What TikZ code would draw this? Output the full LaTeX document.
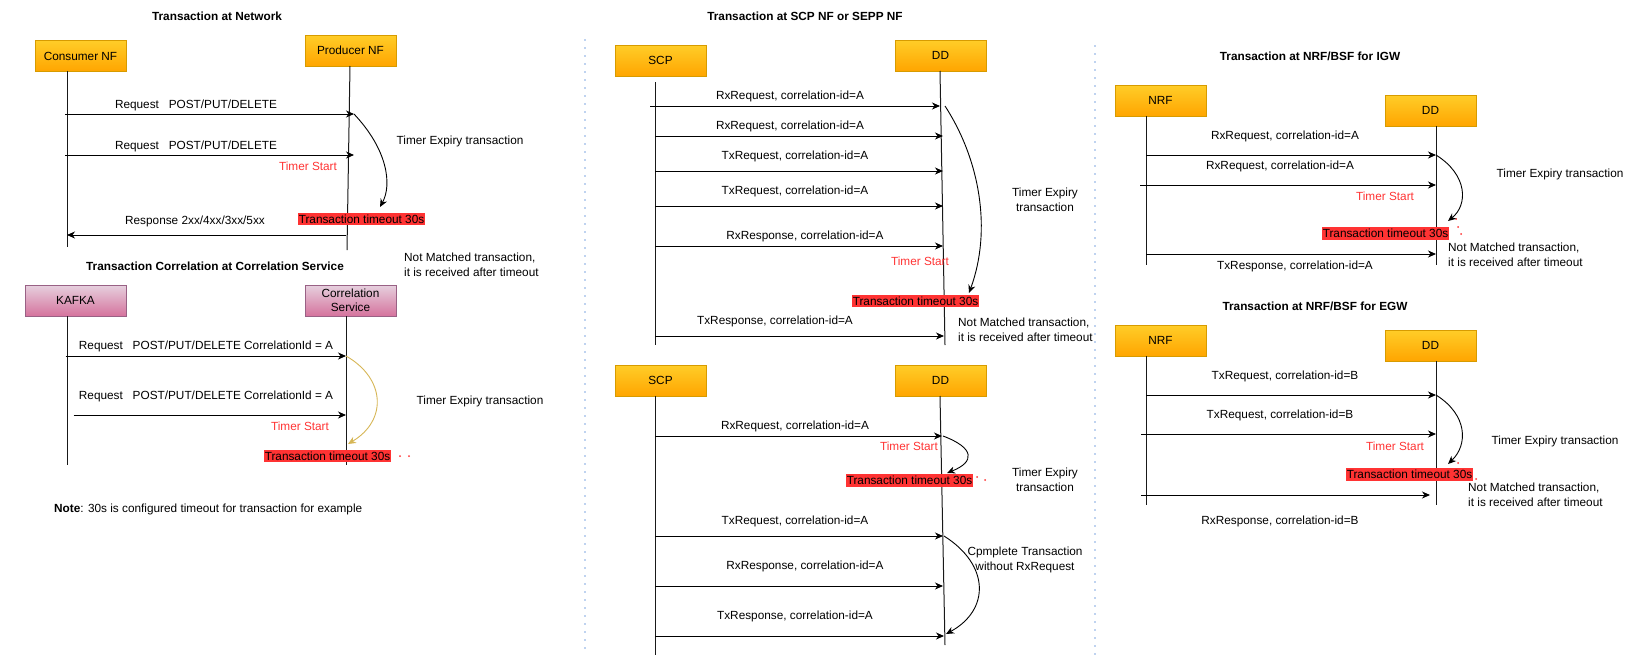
\documentclass[tikz,border=0pt]{standalone}
\usepackage{fontspec}
\setmainfont{Liberation Sans}
\usetikzlibrary{arrows.meta}
\usetikzlibrary{calc}
\usetikzlibrary{positioning}

\definecolor{boxtop}{HTML}{FFCD28}
\definecolor{boxbot}{HTML}{FFA500}
\definecolor{boxline}{HTML}{D79B00}
\definecolor{ktop}{HTML}{E6D0DE}
\definecolor{kbot}{HTML}{D5739D}
\definecolor{kline}{HTML}{996185}
\definecolor{tred}{HTML}{FF3333}
\definecolor{gold}{HTML}{D6B656}
\definecolor{sepblue}{HTML}{7EA6E0}

\tikzset{
  nfbox/.style={draw=boxline, top color=boxtop, bottom color=boxbot, minimum width=91pt, minimum height=31pt, inner sep=1pt, align=center},
  kbox/.style={nfbox, draw=kline, top color=ktop, bottom color=kbot},
  life/.style={draw=black!90, line width=1pt},
  msg/.style={line width=0.9pt, -{Stealth[length=8pt,width=7pt,inset=2.5pt]}},
  timer/.style={line width=0.9pt, -{Stealth[length=8pt,width=7pt,inset=2.5pt]}},
  ttl/.style={font=\fontsize{11.8}{14}\selectfont\bfseries},
  tstart/.style={text=tred},
  tout/.style={fill=tred, inner xsep=0.5pt, inner ysep=1.8pt},
  twoline/.style={align=center, font=\fontsize{11.8}{14.5}\selectfont},
  leftnote/.style={align=left, anchor=west, inner sep=0pt, font=\fontsize{11.8}{14.5}\selectfont},
  reddot/.style={fill=tred, circle, inner sep=0pt, minimum size=2pt},
  divider/.style={draw=sepblue, line width=1.8pt, line cap=round, dash pattern=on 0pt off 8pt},
}

\begin{document}
\begin{tikzpicture}[x=1pt, y=-1pt, every node/.style={font=\fontsize{11.8}{14}\selectfont}]
\useasboundingbox (0,0) rectangle (1650,662);

% dividers
\coordinate (d1t) at (585,40); \coordinate (d1b) at (585,655);
\coordinate (d2t) at (1095,46); \coordinate (d2b) at (1095,655);
\draw[divider] (d1t) -- (d1b);
\draw[divider] (d2t) -- (d2b);

% Transaction at Network
\node[ttl] (t1) at (217,16) {Transaction at Network};
\node[nfbox] (cnf) at (80.5,56) {Consumer NF};
\node[nfbox] (pnf) at (350.5,50.5) {Producer NF};
\coordinate (cnfL) at (67,71); \coordinate (cnfE) at (67,247);
\coordinate (pnfL) at (350,66); \coordinate (pnfE) at (347,250);
\draw[life] (cnfL) -- (cnfE);
\draw[life] (pnfL) -- (pnfE);
\draw[msg] ($(cnfL |- 0,114)+(-2,0)$) -- ($(pnfL |- 0,114)+(4,0)$);
\draw[msg] ($(cnfL |- 0,155)+(-2,0)$) -- ($(pnfL |- 0,155)+(4,0)$);
\draw[msg] ($(pnfE |- 0,235)+(-1,0)$) -- (cnfL |- 0,235);
\node (rq1) at (196,105) {Request\ \ \ POST/PUT/DELETE};
\node (rq2) at (196,146) {Request\ \ \ POST/PUT/DELETE};
\node (rs1) at (195,221) {Response 2xx/4xx/3xx/5xx};
\node[tstart] (ts1) at (308,166) {Timer Start};
\node (te1) at (460,141) {Timer Expiry transaction};
\node[tout] (to1) at (361.5,219) {Transaction timeout 30s};
\coordinate (ex1) at (380,207);
\draw[timer] ($(pnfL |- 0,114)+(4,0)$) .. controls (388,150) and (392,185) .. (ex1);
\node[leftnote] (nm1) at (404,265) {Not Matched transaction,\\it is received after timeout};

% Transaction Correlation at Correlation Service
\node[ttl] (t2) at (215,266) {Transaction Correlation at Correlation Service};
\node[kbox, minimum width=101pt] (kfk) at (75.5,300.5) {KAFKA};
\node[kbox, font=\fontsize{11.8}{14.5}\selectfont] (crs) at (350.5,300.5) {Correlation\\Service};
\coordinate (kfkL) at (67.5,316); \coordinate (kfkE) at (67.5,465);
\coordinate (crsL) at (346,316); \coordinate (crsE) at (346,465);
\draw[life] (kfkL) -- (kfkE);
\draw[life] (crsL) -- (crsE);
\draw[msg] ($(kfkL |- 0,356)+(-2,0)$) -- (crsL |- 0,356);
\draw[msg] ($(kfkL |- 0,415)+(6,0)$) -- (crsL |- 0,415);
\node (rq3) at (206,346) {Request\ \ \ POST/PUT/DELETE CorrelationId = A};
\node (rq4) at (206,396) {Request\ \ \ POST/PUT/DELETE CorrelationId = A};
\node[tstart] (ts2) at (300,426) {Timer Start};
\node (te2) at (480,401) {Timer Expiry transaction};
\node[tout] (to2) at (327.5,456) {Transaction timeout 30s};
\node[reddot] (rd1) at (400,456) {};
\node[reddot] (rd2) at (409,456) {};
\coordinate (ex2) at (348,444);
\draw[timer, draw=gold, -{Stealth[length=8pt,width=7pt,inset=2.5pt,fill=gold]}] (crsL |- 0,356) .. controls (385,378) and (388,420) .. (ex2);
\node[leftnote] (nt) at (54,509) {\textbf{Note}: 30s is configured timeout for transaction for example};

% Transaction at SCP NF or SEPP NF (upper)
\node[ttl] (t3) at (805,16) {Transaction at SCP NF or SEPP NF};
\node[nfbox] (scp1) at (660.5,60.5) {SCP};
\node[nfbox] (dd1) at (940.5,55.5) {DD};
\coordinate (scp1L) at (655,82); \coordinate (scp1E) at (655,345);
\coordinate (dd1L) at (940,71); \coordinate (dd1E) at (945,345);
\draw[life] (scp1L) -- (scp1E);
\draw[life] (dd1L) -- (dd1E);
\draw[msg] ($(scp1L |- 0,106)+(-5,0)$) -- (dd1L |- 0,106);
\draw[msg] (scp1L |- 0,136) -- ($(dd1L |- 0,136)+(3,0)$);
\draw[msg] (scp1L |- 0,171) -- ($(dd1L |- 0,171)+(3,0)$);
\draw[msg] (scp1L |- 0,206) -- ($(dd1L |- 0,206)+(3,0)$);
\draw[msg] (scp1L |- 0,246) -- ($(dd1L |- 0,246)+(3,0)$);
\draw[msg] (scp1L |- 0,336) -- ($(dd1L |- 0,336)+(4,0)$);
\node (m1) at (790,96) {RxRequest, correlation-id=A};
\node (m2) at (790,126) {RxRequest, correlation-id=A};
\node (m3) at (795,156) {TxRequest, correlation-id=A};
\node (m4) at (795,191) {TxRequest, correlation-id=A};
\node (m5) at (805,236) {RxResponse, correlation-id=A};
\node (m6) at (775,321) {TxResponse, correlation-id=A};
\node[tstart] (ts3) at (920,261) {Timer Start};
\node[tout] (to3) at (915.5,301) {Transaction timeout 30s};
\coordinate (ex3s) at (945,106); \coordinate (ex3) at (969,293);
\draw[timer] (ex3s) .. controls (980,160) and (992,230) .. (ex3);
\node[twoline] (te3) at (1045,200) {Timer Expiry\\transaction};
\node[leftnote] (nm3) at (958,330) {Not Matched transaction,\\it is received after timeout};

% Transaction at SCP NF or SEPP NF (lower)
\node[nfbox] (scp2) at (660.5,380.5) {SCP};
\node[nfbox] (dd2) at (940.5,380.5) {DD};
\coordinate (scp2L) at (655,396); \coordinate (scp2E) at (655,655);
\coordinate (dd2L) at (940,396); \coordinate (dd2E) at (945,645);
\draw[life] (scp2L) -- (scp2E);
\draw[life] (dd2L) -- (dd2E);
\draw[msg] (scp2L |- 0,436) -- ($(dd2L |- 0,436)+(2,0)$);
\draw[msg] (scp2L |- 0,536) -- ($(dd2L |- 0,536)+(3,0)$);
\draw[msg] (scp2L |- 0,586) -- ($(dd2L |- 0,586)+(3,0)$);
\draw[msg] (scp2L |- 0,636) -- ($(dd2L |- 0,636)+(4,0)$);
\node (m7) at (795,426) {RxRequest, correlation-id=A};
\node (m8) at (795,521) {TxRequest, correlation-id=A};
\node (m9) at (805,566) {RxResponse, correlation-id=A};
\node (m10) at (795,616) {TxResponse, correlation-id=A};
\node[tstart] (ts4) at (909,446) {Timer Start};
\node[tout] (to4) at (909.5,480.5) {Transaction timeout 30s};
\node[reddot] (rd3) at (977,477) {};
\node[reddot] (rd4) at (985,480) {};
\coordinate (ex4s) at (943,436); \coordinate (ex4) at (947,473);
\draw[timer] (ex4s) .. controls (975,448) and (975,462) .. (ex4);
\node[twoline] (te4) at (1045,480) {Timer Expiry\\transaction};
\coordinate (cp4s) at (944,536); \coordinate (cp4) at (946,634);
\draw[timer] (cp4s) .. controls (990,565) and (990,610) .. (cp4);
\node[twoline] (cp4t) at (1025,560) {Cpmplete Transaction\\without RxRequest};

% Transaction at NRF/BSF for IGW
\node[ttl] (t5) at (1310,56) {Transaction at NRF/BSF for IGW};
\node[nfbox] (nrf1) at (1160.5,100.5) {NRF};
\node[nfbox] (dd3) at (1430.5,110.5) {DD};
\coordinate (nrf1L) at (1146,116); \coordinate (nrf1E) at (1146,265);
\coordinate (dd3L) at (1436,126); \coordinate (dd3E) at (1436,265);
\draw[life] (nrf1L) -- (nrf1E);
\draw[life] (dd3L) -- (dd3E);
\draw[msg] (nrf1L |- 0,155) -- (dd3L |- 0,155);
\draw[msg] ($(nrf1L |- 0,185)+(-6,0)$) -- (dd3L |- 0,185);
\draw[msg] (nrf1L |- 0,254) -- (dd3L |- 0,254);
\node (m11) at (1285,136) {RxRequest, correlation-id=A};
\node (m12) at (1280,166) {RxRequest, correlation-id=A};
\node (m13) at (1295,266) {TxResponse, correlation-id=A};
\node[tstart] (ts5) at (1385,196) {Timer Start};
\node[tout] (to5) at (1385.5,233.5) {Transaction timeout 30s};
\node[reddot] (rd5) at (1456,219) {};
\node[reddot] (rd6) at (1458,227) {};
\node[reddot] (rd7) at (1461,234) {};
\coordinate (ex5) at (1448,221);
\draw[timer] (dd3L |- 0,155) .. controls (1468,175) and (1468,205) .. (ex5);
\node (te5) at (1560,174) {Timer Expiry transaction};
\node[leftnote] (nm5) at (1448,255) {Not Matched transaction,\\it is received after timeout};

% Transaction at NRF/BSF for EGW
\node[ttl] (t6) at (1315,306) {Transaction at NRF/BSF for EGW};
\node[nfbox] (nrf2) at (1160.5,340.5) {NRF};
\node[nfbox] (dd4) at (1430.5,345.5) {DD};
\coordinate (nrf2L) at (1146,356); \coordinate (nrf2E) at (1146,505);
\coordinate (dd4L) at (1436,361); \coordinate (dd4E) at (1436,505);
\draw[life] (nrf2L) -- (nrf2E);
\draw[life] (dd4L) -- (dd4E);
\draw[msg] (nrf2L |- 0,395) -- (dd4L |- 0,395);
\draw[msg] ($(nrf2L |- 0,434)+(-5,0)$) -- (dd4L |- 0,434);
\draw[msg] ($(nrf2L |- 0,495)+(-5,0)$) -- ($(dd4L |- 0,495)+(-6,0)$);
\node (m14) at (1285,376) {TxRequest, correlation-id=B};
\node (m15) at (1280,415) {TxRequest, correlation-id=B};
\node (m16) at (1280,521) {RxResponse, correlation-id=B};
\node[tstart] (ts6) at (1395,446) {Timer Start};
\node[tout] (to6) at (1409.5,474.5) {Transaction timeout 30s};
\node[reddot] (rd8) at (1458,463) {};
\node[reddot] (rd9) at (1476,479) {};
\coordinate (ex6) at (1448,464);
\draw[timer] (dd4L |- 0,395) .. controls (1468,415) and (1468,445) .. (ex6);
\node (te6) at (1555,441) {Timer Expiry transaction};
\node[leftnote] (nm6) at (1468,495) {Not Matched transaction,\\it is received after timeout};
\end{tikzpicture}
\end{document}
